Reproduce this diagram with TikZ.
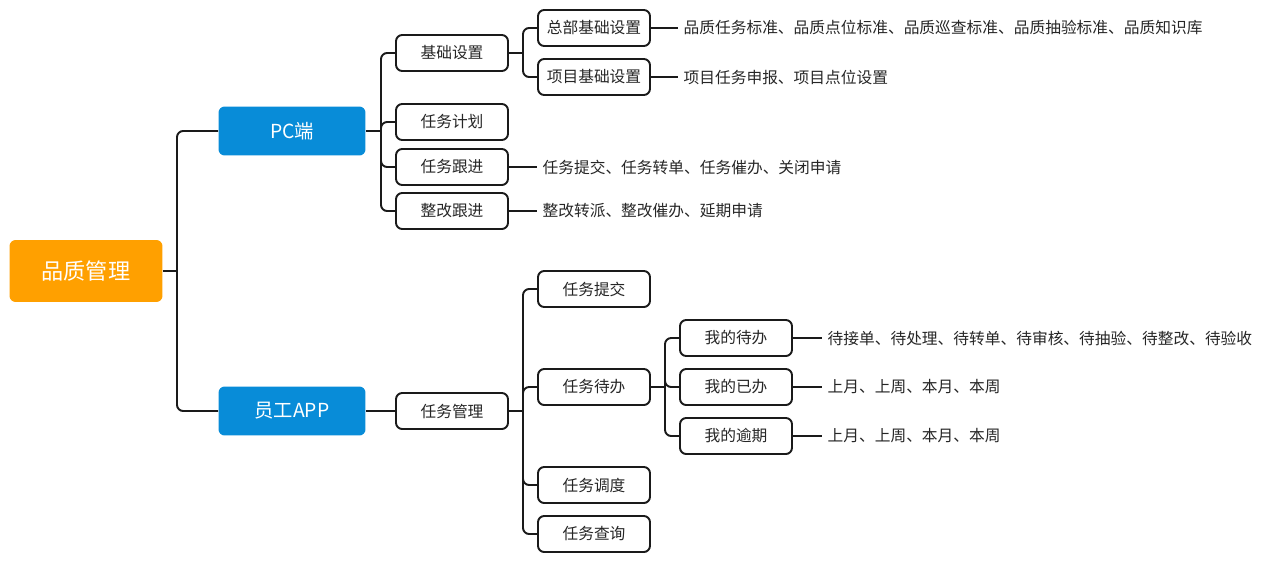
\documentclass[tikz,border=0pt]{standalone}
\usepackage{fontspec}
\setmainfont{Noto Sans CJK SC}
\usepackage{xcolor}
\usetikzlibrary{positioning, calc}
\definecolor{rootorange}{HTML}{FFA000}
\definecolor{sideblue}{HTML}{088CD8}
\definecolor{linegray}{HTML}{1A1A1A}
\definecolor{textgray}{HTML}{262626}

\begin{document}
\begin{tikzpicture}[x=0.02cm, y=-0.02cm,
  rootbox/.style={rectangle, rounded corners=3.5pt, fill=rootorange, text=white,
    minimum width=3.06cm, minimum height=1.24cm, font=\fontsize{12.6}{14}\selectfont},
  sidebox/.style={rectangle, rounded corners=3.5pt, fill=sideblue, text=white,
    minimum width=2.94cm, minimum height=0.98cm, font=\fontsize{11}{13}\selectfont},
  itembox/.style={rectangle, rounded corners=3.5pt, draw=linegray, line width=1.1pt,
    fill=white, text=textgray, minimum width=2.24cm, minimum height=0.72cm,
    font=\fontsize{8.95}{10}\selectfont},
  leaf/.style={anchor=west, inner ysep=0pt, inner xsep=3pt, text=textgray,
    font=\fontsize{8.95}{10}\selectfont},
  conn/.style={draw=linegray, line width=1.1pt, rounded corners=3.5pt}]
\useasboundingbox (0,0) rectangle (1262,561);

% Root and the two sides
\node[rootbox] (root) at (86,271) {品质管理};
\node[sidebox] (pc) at (292,131) {PC端};
\node[sidebox] (app) at (292,411) {员工APP};

% PC side
\node[itembox] (jcsz) at (452,53) {基础设置};
\node[itembox] (rwjh) at (452,122) {任务计划};
\node[itembox] (rwgj) at (452,167) {任务跟进};
\node[itembox] (zggj) at (452,211) {整改跟进};
\node[itembox] (zbsz) at (594,28) {总部基础设置};
\node[itembox] (xmsz) at (594,77) {项目基础设置};
\node[leaf] (zbleaf) at (678,28) {品质任务标准、品质点位标准、品质巡查标准、品质抽验标准、品质知识库};
\node[leaf] (xmleaf) at (678,77) {项目任务申报、项目点位设置};
\node[leaf] (gjleaf) at (537,167) {任务提交、任务转单、任务催办、关闭申请};
\node[leaf] (zgleaf) at (537,211) {整改转派、整改催办、延期申请};

% APP side
\node[itembox] (rwgl) at (452,411) {任务管理};
\node[itembox] (rwtj) at (594,289) {任务提交};
\node[itembox] (rwdb) at (594,387) {任务待办};
\node[itembox] (rwdd) at (594,485) {任务调度};
\node[itembox] (rwcx) at (594,534) {任务查询};
\node[itembox] (wddb) at (736,338) {我的待办};
\node[itembox] (wdyb) at (736,387) {我的已办};
\node[itembox] (wdyq) at (736,436) {我的逾期};
\node[leaf] (dbleaf) at (822,338) {待接单、待处理、待转单、待审核、待抽验、待整改、待验收};
\node[leaf] (ybleaf) at (822,387) {上月、上周、本月、本周};
\node[leaf] (yqleaf) at (822,436) {上月、上周、本月、本周};

% Branch points
\coordinate (rootb) at (177,271);
\coordinate (pcb) at (381,131);
\coordinate (jcszb) at (523,53);
\coordinate (appb) at (381,411);
\coordinate (rwglb) at (523,411);
\coordinate (rwdbb) at (665,387);

% Connectors
\draw[conn] (root.east) -- (rootb);
\foreach \c in {pc,app} \draw[conn] (rootb) |- (\c.west);
\draw[conn] (pc.east) -- (pcb);
\foreach \c in {jcsz,rwjh,rwgj,zggj} \draw[conn] (pcb) |- (\c.west);
\draw[conn] (jcsz.east) -- (jcszb);
\foreach \c in {zbsz,xmsz} \draw[conn] (jcszb) |- (\c.west);
\draw[conn] (app.east) -- (rwgl.west);
\draw[conn] (rwgl.east) -- (rwglb);
\foreach \c in {rwtj,rwdb,rwdd,rwcx} \draw[conn] (rwglb) |- (\c.west);
\draw[conn] (rwdb.east) -- (rwdbb);
\foreach \c in {wddb,wdyb,wdyq} \draw[conn] (rwdbb) |- (\c.west);
\foreach \a/\b in {zbsz/zbleaf,xmsz/xmleaf,rwgj/gjleaf,zggj/zgleaf,wddb/dbleaf,wdyb/ybleaf,wdyq/yqleaf}
  \draw[conn] (\a.east) -- (\b.west);
\end{tikzpicture}
\end{document}
